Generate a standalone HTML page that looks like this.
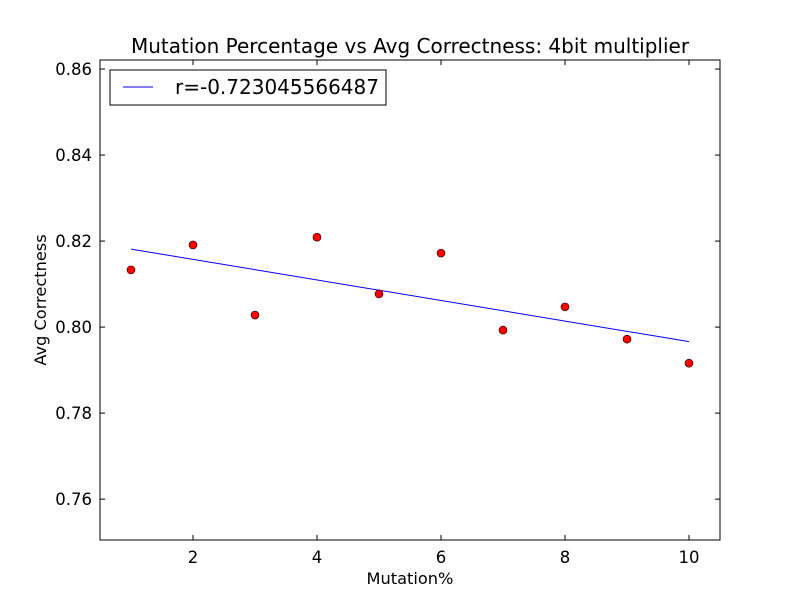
<!DOCTYPE html>
<html><head><meta charset="utf-8"><style>
body{margin:0;background:#fff;}
svg{display:block;font-family:"DejaVu Sans","Liberation Sans",sans-serif;}
</style></head><body>
<svg id="chart" width="800" height="600">
<rect width="800" height="600" fill="#fff"/>
<text x="410" y="53" font-size="20" text-anchor="middle">Mutation Percentage vs Avg Correctness: 4bit multiplier</text>
<g id="ticks"></g>
<g id="marks"></g>
<rect x="100" y="60" width="620" height="480" fill="none" stroke="#000"/>
<text x="410" y="584" font-size="16.2" text-anchor="middle">Mutation%</text>
<text transform="translate(46,300) rotate(-90)" font-size="16.2" text-anchor="middle">Avg Correctness</text>
<g>
<rect x="110" y="70" width="276" height="35" fill="#fff" stroke="#000"/>
<line x1="123" y1="87" x2="153" y2="87" stroke="#00f"/>
<text x="175" y="94" font-size="20">r=-0.723045566487</text>
</g>
</svg>
<script>
const xs=[1,2,3,4,5,6,7,8,9,10];
const ys=[0.8133,0.8191,0.8028,0.8209,0.8077,0.8172,0.7993,0.8047,0.7972,0.7916];
const xTicks=[2,4,6,8,10];
const yTicks=[0.76,0.78,0.80,0.82,0.84,0.86];
const xMin=0.5,xMax=10.5,yMin=0.7505,yMax=0.8621;
const L=100,R=720,T=60,B=540;
const sx=v=>L+(v-xMin)/(xMax-xMin)*(R-L);
const sy=v=>B-(v-yMin)/(yMax-yMin)*(B-T);
const NS="http://www.w3.org/2000/svg";
const tk=document.getElementById('ticks'),mk=document.getElementById('marks');
function mkEl(t,a,p){const e=document.createElementNS(NS,t);for(const k in a)e.setAttribute(k,a[k]);p.appendChild(e);return e;}
xTicks.forEach(v=>{const x=sx(v);
 let l=mkEl('line',{x1:x,x2:x,y1:B,y2:B-5,stroke:'#000'},tk);
 
 
 l=mkEl('line',{x1:x,x2:x,y1:T,y2:T+5,stroke:'#000'},tk);
 
 
 const t=mkEl('text',{x:x,y:B+23,'font-size':16.5,'text-anchor':'middle'},tk);t.textContent=v;
 
 
});
yTicks.forEach(v=>{const y=sy(v);
 let l=mkEl('line',{x1:L,x2:L+5,y1:y,y2:y,stroke:'#000'},tk);
 
 
 l=mkEl('line',{x1:R,x2:R-5,y1:y,y2:y,stroke:'#000'},tk);
 
 
 const t=mkEl('text',{x:L-8,y:y+6,'font-size':16.5,'text-anchor':'end'},tk);t.textContent=v.toFixed(2);
 
 
});
const n=xs.length,mx=xs.reduce((a,b)=>a+b)/n,my=ys.reduce((a,b)=>a+b)/n;
let sxy=0,sxx=0;xs.forEach((x,i)=>{sxy+=(x-mx)*(ys[i]-my);sxx+=(x-mx)*(x-mx);});
const slope=sxy/sxx,ic=my-slope*mx;
const x0=xs[0],x1=xs[n-1];
const fl=mkEl('line',{x1:sx(x0),y1:sy(ic+slope*x0),x2:sx(x1),y2:sy(ic+slope*x1),stroke:'#00f','stroke-width':1},mk);


xs.forEach((x,i)=>{
 const c=mkEl('circle',{cx:sx(x),cy:sy(ys[i]),r:4,fill:'#f00',stroke:'#000','stroke-width':0.6},mk);
 
 
});
</script>
</body></html>
